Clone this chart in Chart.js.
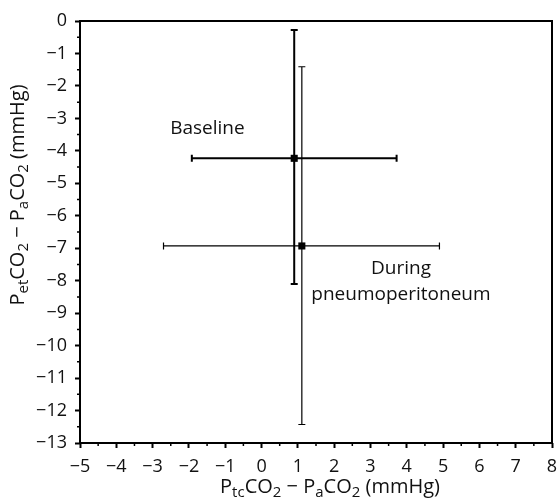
<!DOCTYPE html>
<html lang="en">
<head>
  <meta charset="UTF-8">
  <script src="https://cdn.jsdelivr.net/npm/chart.js"></script>
  <title>PCO2 differences</title>
  <style>
    body { margin: 0; padding: 0; background: #fff; }
    canvas { display: block; }
  </style>
</head>
<body>
  <canvas id="chart" width="560" height="502"></canvas>
  <script>
    // data
    const groups = ['Baseline', 'During pneumoperitoneum'];
    const xMean = [0.90, 1.11];
    const yMean = [-4.23, -6.93];
    const xLow = [-1.92, -2.70];
    const xHigh = [3.72, 4.90];
    const yLow = [-8.10, -12.43];
    const yHigh = [-0.28, -1.41];
    const barWidths = [2, 1.2];

    const xTicks = [-5, -4, -3, -2, -1, 0, 1, 2, 3, 4, 5, 6, 7, 8];
    const yTicks = [0, -1, -2, -3, -4, -5, -6, -7, -8, -9, -10, -11, -12, -13];

    // text labels: [lines], x, y in data units
    const noteText = [['Baseline'], ['During', 'pneumoperitoneum']];
    const noteX = [-1.49, 3.84];
    const noteY = [-3.30, -7.64];

    const FONT = "'Open Sans', sans-serif";
    const minus = v => (v < 0 ? '\u2212' + Math.abs(v) : String(v));

    const errorBars = {
      id: 'errorBars',
      afterDatasetsDraw(chart) {
        const ctx = chart.ctx;
        const xs = chart.scales.x, ys = chart.scales.y;
        ctx.save();
        ctx.strokeStyle = '#000';
        for (let i = 0; i < groups.length; i++) {
          const cx = xs.getPixelForValue(xMean[i]);
          const cy = ys.getPixelForValue(yMean[i]);
          const x1 = xs.getPixelForValue(xLow[i]);
          const x2 = xs.getPixelForValue(xHigh[i]);
          const y1 = ys.getPixelForValue(yLow[i]);
          const y2 = ys.getPixelForValue(yHigh[i]);
          const cap = 3.5;
          ctx.lineWidth = barWidths[i];
          ctx.beginPath();
          ctx.moveTo(x1, cy); ctx.lineTo(x2, cy);
          ctx.moveTo(x1, cy - cap); ctx.lineTo(x1, cy + cap);
          ctx.moveTo(x2, cy - cap); ctx.lineTo(x2, cy + cap);
          ctx.moveTo(cx, y1); ctx.lineTo(cx, y2);
          ctx.moveTo(cx - cap, y1); ctx.lineTo(cx + cap, y1);
          ctx.moveTo(cx - cap, y2); ctx.lineTo(cx + cap, y2);
          ctx.stroke();
        }
        // labels
        ctx.fillStyle = '#111';
        ctx.font = '19px ' + FONT;
        ctx.textAlign = 'center';
        ctx.textBaseline = 'middle';
        for (let i = 0; i < noteText.length; i++) {
          const px = xs.getPixelForValue(noteX[i]);
          const py = ys.getPixelForValue(noteY[i]);
          noteText[i].forEach((line, k) => ctx.fillText(line, px, py + k * 26));
        }
        ctx.restore();
      }
    };

    function subText(ctx, parts, x, y, rotate) {
      const big = '20px ' + FONT, small = '15px ' + FONT;
      let total = 0;
      parts.forEach(p => { ctx.font = p[1] ? small : big; total += ctx.measureText(p[0]).width; });
      ctx.save();
      ctx.translate(x, y);
      if (rotate) ctx.rotate(-Math.PI / 2);
      ctx.textAlign = 'left';
      ctx.textBaseline = 'middle';
      ctx.fillStyle = '#111';
      let pos = -total / 2;
      parts.forEach(p => {
        ctx.font = p[1] ? small : big;
        ctx.fillText(p[0], pos, p[1] ? 6 : 0);
        pos += ctx.measureText(p[0]).width;
      });
      ctx.restore();
    }

    const frame = {
      id: 'frame',
      afterDraw(chart) {
        const ctx = chart.ctx;
        const a = chart.chartArea;
        const xs = chart.scales.x, ys = chart.scales.y;
        ctx.save();
        ctx.strokeStyle = '#000';
        ctx.lineWidth = 2;
        ctx.strokeRect(a.left, a.top, a.right - a.left, a.bottom - a.top);
        // minor ticks
        ctx.lineWidth = 1.5;
        ctx.beginPath();
        for (let i = 0; i < xTicks.length - 1; i++) {
          const px = xs.getPixelForValue(xTicks[i] + 0.5);
          ctx.moveTo(px, a.bottom); ctx.lineTo(px, a.bottom + 3);
        }
        for (let i = 0; i < yTicks.length - 1; i++) {
          const py = ys.getPixelForValue(yTicks[i] - 0.5);
          ctx.moveTo(a.left, py); ctx.lineTo(a.left - 3, py);
        }
        ctx.stroke();
        ctx.restore();
        subText(ctx, [['P'], ['tc', 1], ['CO'], ['2', 1], [' \u2212 P'], ['a', 1], ['CO'], ['2', 1], [' (mmHg)']],
          330, 487, false);
        subText(ctx, [['P'], ['et', 1], ['CO'], ['2', 1], [' \u2212 P'], ['a', 1], ['CO'], ['2', 1], [' (mmHg)']],
          18, 195, true);
      }
    };

    const points = groups.map((g, i) => ({ x: xMean[i], y: yMean[i] }));

    new Chart(document.getElementById('chart').getContext('2d'), {
      type: 'scatter',
      data: {
        datasets: [{
          label: 'Mean',
          data: points,
          pointStyle: 'rect',
          pointRadius: 5,
          pointHoverRadius: 5,
          backgroundColor: '#000',
          borderColor: '#000',
          borderWidth: 0
        }]
      },
      options: {
        responsive: false,
        animation: false,
        layout: { padding: { top: 21, right: 8, left: 0, bottom: 0 } },
        plugins: { legend: { display: false }, tooltip: { enabled: false } },
        scales: {
          x: {
            type: 'linear',
            min: -5,
            max: 8,
            afterFit: s => { s.height = 59; s.paddingLeft = 0; s.paddingRight = 0; },
            border: { display: false },
            grid: { drawOnChartArea: false, tickLength: 5, tickWidth: 2, tickColor: '#000' },
            ticks: {
              stepSize: 1,
              color: '#111',
              padding: 8,
              maxRotation: 0,
              font: { family: FONT, size: 18 },
              callback: v => minus(v)
            }
          },
          y: {
            type: 'linear',
            min: -13,
            max: 0,
            afterFit: s => { s.width = 80; s.paddingTop = 0; s.paddingBottom = 0; },
            border: { display: false },
            grid: { drawOnChartArea: false, tickLength: 5, tickWidth: 2, tickColor: '#000' },
            ticks: {
              stepSize: 1,
              color: '#111',
              padding: 8,
              font: { family: FONT, size: 18 },
              callback: v => minus(v)
            }
          }
        }
      },
      plugins: [errorBars, frame]
    });
  </script>
</body>
</html>
